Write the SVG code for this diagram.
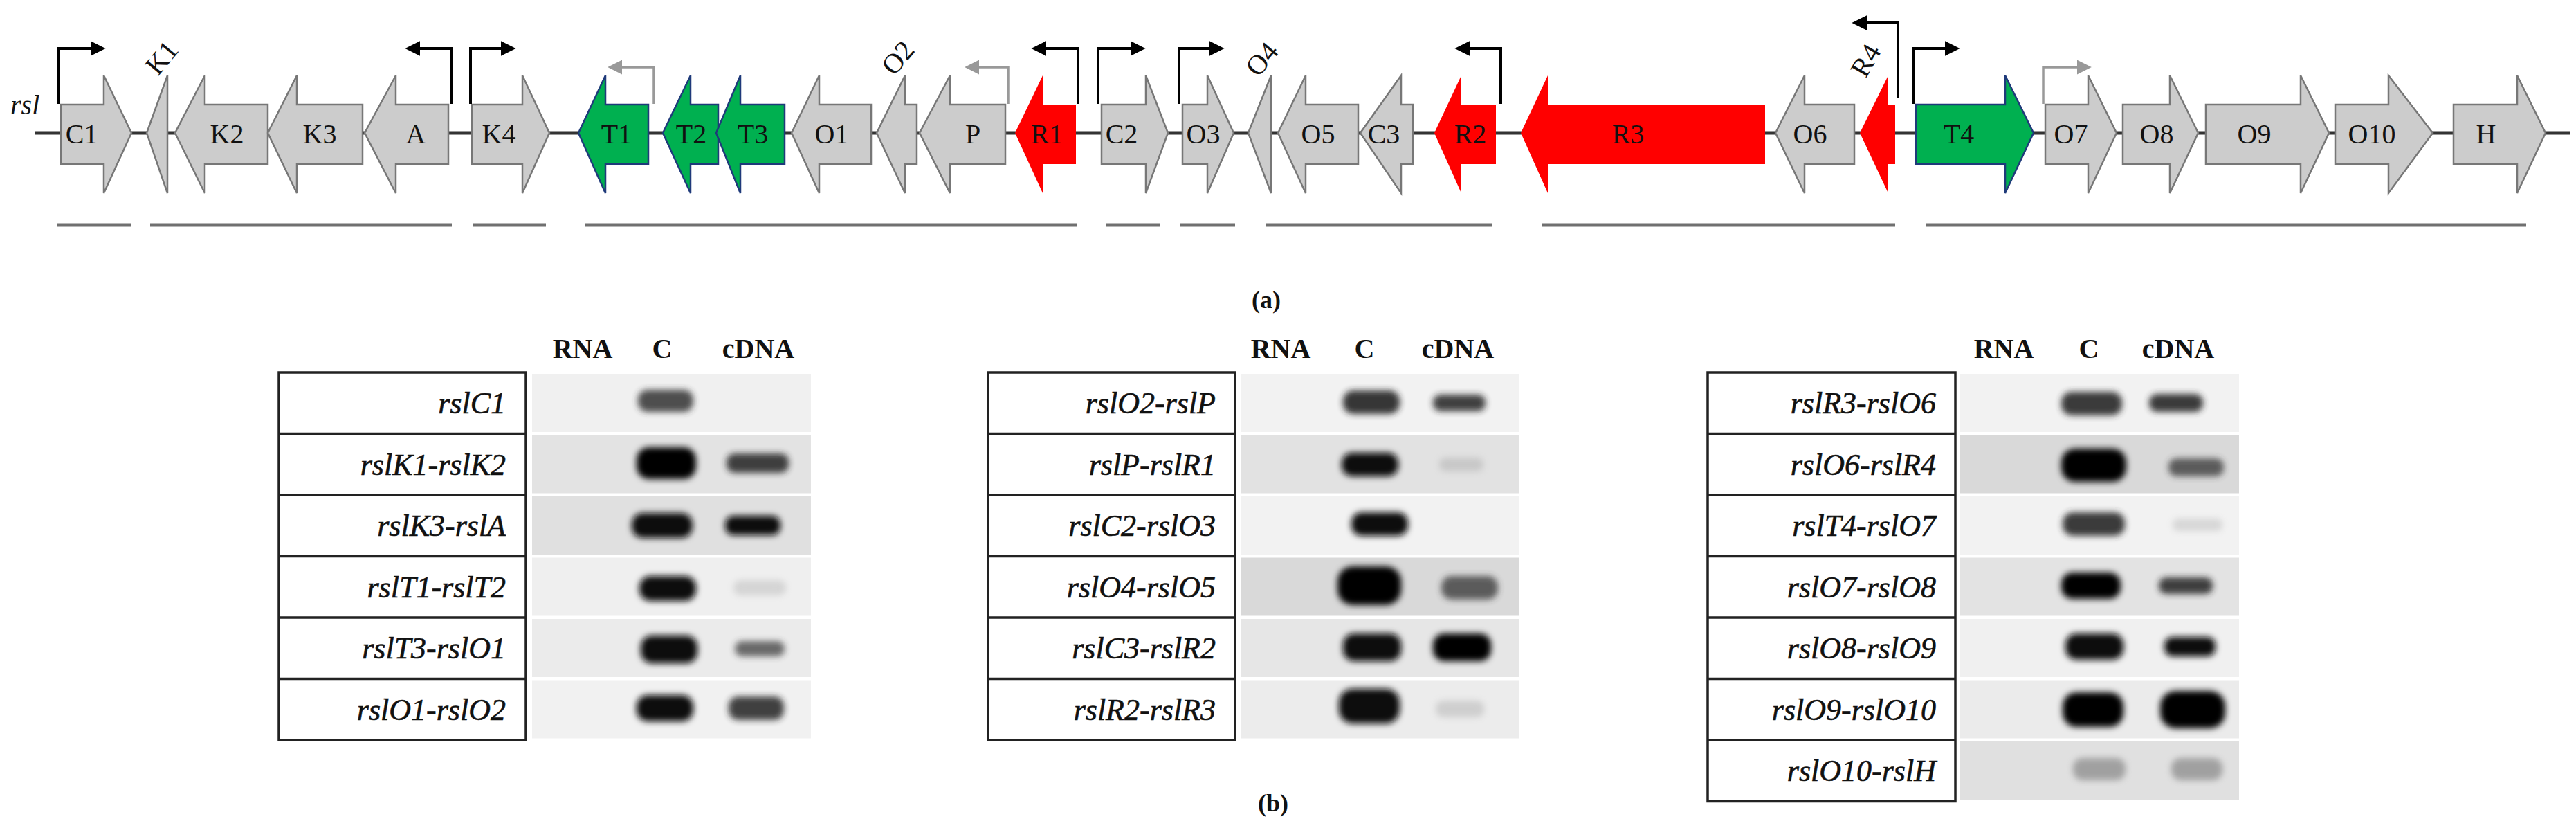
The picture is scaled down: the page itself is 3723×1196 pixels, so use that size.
<svg xmlns="http://www.w3.org/2000/svg" width="3723" height="1196" viewBox="0 0 3723 1196">
<style>
.g{fill:#cccccc;stroke:#777;stroke-width:2.5}
.t{fill:#00b050;stroke:#1f3a7a;stroke-width:2.5}
.r{fill:#ff0000;stroke:none}
.lb{font-family:"Liberation Serif",serif;font-size:40px;fill:#111;text-anchor:middle}
.pb{fill:none;stroke:#000;stroke-width:4}
.pg{fill:none;stroke:#999;stroke-width:3.5}
.seg{stroke:#707070;stroke-width:5}
.hd{font-family:"Liberation Serif",serif;font-size:40px;font-weight:bold;fill:#111;text-anchor:middle}
.rl{font-family:"Liberation Serif",serif;font-size:44px;font-style:italic;fill:#111;stroke:#111;stroke-width:0.6;text-anchor:end}
.box{fill:#fff;stroke:#222;stroke-width:3.5}
.band{filter:url(#bl)}
</style>
<defs>
<filter id="bl" x="-30%" y="-60%" width="160%" height="220%"><feGaussianBlur stdDeviation="5"/></filter>
<marker id="ab" viewBox="0 0 10 10" refX="2" refY="5" markerWidth="5.5" markerHeight="5.5" orient="auto"><path d="M0,0 L10,5 L0,10 Z" fill="#000"/></marker>
<marker id="ag" viewBox="0 0 10 10" refX="2" refY="5" markerWidth="6" markerHeight="6" orient="auto"><path d="M0,0 L10,5 L0,10 Z" fill="#999"/></marker>
</defs>
<rect width="3723" height="1196" fill="#fff"/>
<line x1="51" y1="192" x2="3715" y2="192" stroke="#333" stroke-width="5"/>
<text x="15" y="165" font-family="Liberation Serif,serif" font-size="40" font-style="italic" fill="#111">rsl</text>
<g id="genes">
<g id="C1"><path class="g" d="M88,151 L150,151 L150,109 L190,192 L150,279 L150,237 L88,237 Z"/><text class="lb" x="118" y="207">C1</text></g>
<g id="K1"><path class="g" d="M212,192 L242,109 L242,279 Z"/><text class="lb" transform="translate(244,92) rotate(-50)" x="0" y="0">K1</text></g>
<g id="K2"><path class="g" d="M253,192 L296,109 L296,151 L387,151 L387,237 L296,237 L296,279 Z"/><text class="lb" x="328" y="207">K2</text></g>
<g id="K3"><path class="g" d="M387,192 L429,109 L429,151 L524,151 L524,237 L429,237 L429,279 Z"/><text class="lb" x="462" y="207">K3</text></g>
<g id="A"><path class="g" d="M527,192 L572,109 L572,151 L648,151 L648,237 L572,237 L572,279 Z"/><text class="lb" x="601" y="207">A</text></g>
<g id="K4"><path class="g" d="M682,151 L755,151 L755,109 L794,192 L755,279 L755,237 L682,237 Z"/><text class="lb" x="721" y="207">K4</text></g>
<g id="T1"><path class="t" d="M836,192 L875,109 L875,151 L937,151 L937,237 L875,237 L875,279 Z"/><text class="lb" x="891" y="207">T1</text></g>
<g id="T2"><path class="t" d="M958,192 L998,109 L998,151 L1038,151 L1038,237 L998,237 L998,279 Z"/><text class="lb" x="999" y="207">T2</text></g>
<g id="T3"><path class="t" d="M1035,192 L1070,109 L1070,151 L1134,151 L1134,237 L1070,237 L1070,279 Z"/><text class="lb" x="1088" y="207">T3</text></g>
<g id="O1"><path class="g" d="M1144,192 L1184,109 L1184,151 L1259,151 L1259,237 L1184,237 L1184,279 Z"/><text class="lb" x="1202" y="207">O1</text></g>
<g id="O2"><path class="g" d="M1267,192 L1308,109 L1308,151 L1325,151 L1325,237 L1308,237 L1308,279 Z"/><text class="lb" transform="translate(1308,92) rotate(-50)" x="0" y="0">O2</text></g>
<g id="P"><path class="g" d="M1329,192 L1373,109 L1373,151 L1453,151 L1453,237 L1373,237 L1373,279 Z"/><text class="lb" x="1406" y="207">P</text></g>
<g id="R1"><path class="r" d="M1467,192 L1507,109 L1507,151 L1555,151 L1555,237 L1507,237 L1507,279 Z"/><text class="lb" x="1513" y="207">R1</text></g>
<g id="C2"><path class="g" d="M1592,151 L1656,151 L1656,109 L1688,192 L1656,279 L1656,237 L1592,237 Z"/><text class="lb" x="1621" y="207">C2</text></g>
<g id="O3"><path class="g" d="M1709,151 L1745,151 L1745,109 L1783,192 L1745,279 L1745,237 L1709,237 Z"/><text class="lb" x="1739" y="207">O3</text></g>
<g id="O4"><path class="g" d="M1804,192 L1837,109 L1837,279 Z"/><text class="lb" transform="translate(1834,94) rotate(-50)" x="0" y="0">O4</text></g>
<g id="O5"><path class="g" d="M1847,192 L1887,109 L1887,151 L1963,151 L1963,237 L1887,237 L1887,279 Z"/><text class="lb" x="1905" y="207">O5</text></g>
<g id="C3"><path class="g" d="M1966,192 L2025,109 L2025,151 L2042,151 L2042,237 L2025,237 L2025,279 Z"/><text class="lb" x="2000" y="207">C3</text></g>
<g id="R2"><path class="r" d="M2073,192 L2112,109 L2112,151 L2162,151 L2162,237 L2112,237 L2112,279 Z"/><text class="lb" x="2125" y="207">R2</text></g>
<g id="R3"><path class="r" d="M2198,192 L2237,109 L2237,151 L2551,151 L2551,237 L2237,237 L2237,279 Z"/><text class="lb" x="2353" y="207">R3</text></g>
<g id="O6"><path class="g" d="M2566,192 L2608,109 L2608,151 L2680,151 L2680,237 L2608,237 L2608,279 Z"/><text class="lb" x="2616" y="207">O6</text></g>
<g id="R4"><path class="r" d="M2688,192 L2729,109 L2729,151 L2739,151 L2739,237 L2729,237 L2729,279 Z"/><text class="lb" transform="translate(2708,94) rotate(-60)" x="0" y="0">R4</text></g>
<g id="T4"><path class="t" d="M2769,151 L2898,151 L2898,109 L2939,192 L2898,279 L2898,237 L2769,237 Z"/><text class="lb" x="2831" y="207">T4</text></g>
<g id="O7"><path class="g" d="M2956,151 L3018,151 L3018,109 L3059,192 L3018,279 L3018,237 L2956,237 Z"/><text class="lb" x="2993" y="207">O7</text></g>
<g id="O8"><path class="g" d="M3068,151 L3136,151 L3136,109 L3177,192 L3136,279 L3136,237 L3068,237 Z"/><text class="lb" x="3117" y="207">O8</text></g>
<g id="O9"><path class="g" d="M3188,151 L3325,151 L3325,109 L3366,192 L3325,279 L3325,237 L3188,237 Z"/><text class="lb" x="3258" y="207">O9</text></g>
<g id="O10"><path class="g" d="M3375,151 L3452,151 L3452,109 L3516,192 L3452,279 L3452,237 L3375,237 Z"/><text class="lb" x="3428" y="207">O10</text></g>
<g id="H"><path class="g" d="M3546,151 L3638,151 L3638,109 L3679,192 L3638,279 L3638,237 L3546,237 Z"/><text class="lb" x="3593" y="207">H</text></g>
</g>
<g id="connectors">
<path class="pb" d="M85,150 V70 H135" marker-end="url(#ab)"/>
<path class="pb" d="M653,150 V70 H603" marker-end="url(#ab)"/>
<path class="pb" d="M680,150 V70 H728" marker-end="url(#ab)"/>
<path class="pg" d="M945,150 V97 H895" marker-end="url(#ag)"/>
<path class="pg" d="M1457,150 V97 H1411" marker-end="url(#ag)"/>
<path class="pb" d="M1558,150 V70 H1508" marker-end="url(#ab)"/>
<path class="pb" d="M1587,150 V70 H1638" marker-end="url(#ab)"/>
<path class="pb" d="M1704,150 V70 H1752" marker-end="url(#ab)"/>
<path class="pb" d="M2169,150 V70 H2120" marker-end="url(#ab)"/>
<path class="pb" d="M2743,142 V33 H2694" marker-end="url(#ab)"/>
<path class="pb" d="M2765,150 V70 H2815" marker-end="url(#ab)"/>
<path class="pg" d="M2953,150 V97 H3006" marker-end="url(#ag)"/>
</g>
<g id="transcripts">
<line class="seg" x1="83" y1="325" x2="189" y2="325"/>
<line class="seg" x1="217" y1="325" x2="653" y2="325"/>
<line class="seg" x1="684" y1="325" x2="789" y2="325"/>
<line class="seg" x1="846" y1="325" x2="1557" y2="325"/>
<line class="seg" x1="1598" y1="325" x2="1677" y2="325"/>
<line class="seg" x1="1706" y1="325" x2="1785" y2="325"/>
<line class="seg" x1="1830" y1="325" x2="2156" y2="325"/>
<line class="seg" x1="2228" y1="325" x2="2739" y2="325"/>
<line class="seg" x1="2784" y1="325" x2="3651" y2="325"/>
</g>
<text x="1830" y="445" font-family="Liberation Serif,serif" font-size="36" font-weight="bold" text-anchor="middle" fill="#111">(a)</text>

<g id="table1">
<text class="hd" x="842" y="517">RNA</text><text class="hd" x="957" y="517">C</text><text class="hd" x="1096" y="517">cDNA</text>
<rect class="box" x="403" y="538" width="357" height="531"/>
<path d="M403,626.5 H760 M403,715 H760 M403,803.5 H760 M403,892 H760 M403,980.5 H760" stroke="#222" stroke-width="3.5"/>
<text class="rl" x="731" y="597">rslC1</text>
<text class="rl" x="731" y="686">rslK1-rslK2</text>
<text class="rl" x="731" y="774">rslK3-rslA</text>
<text class="rl" x="731" y="863">rslT1-rslT2</text>
<text class="rl" x="731" y="951">rslT3-rslO1</text>
<text class="rl" x="731" y="1040">rslO1-rslO2</text>
<rect x="769" y="540" width="403" height="84" fill="#f0f0f0"/>
<rect x="769" y="628.5" width="403" height="84" fill="#e3e3e3"/>
<rect x="769" y="717" width="403" height="84" fill="#e0e0e0"/>
<rect x="769" y="805.5" width="403" height="84" fill="#efefef"/>
<rect x="769" y="894" width="403" height="84" fill="#ebebeb"/>
<rect x="769" y="982.5" width="403" height="84" fill="#f1f1f1"/>
<rect class="band" x="922" y="563" width="80" height="32" rx="14" fill="#333" opacity="0.85"/>
<rect class="band" x="920" y="646" width="86" height="46" rx="18" fill="#000"/>
<rect class="band" x="1050" y="655" width="90" height="28" rx="12" fill="#222" opacity="0.85"/>
<rect class="band" x="913" y="741" width="88" height="36" rx="16" fill="#111"/>
<rect class="band" x="1048" y="745" width="80" height="28" rx="12" fill="#111"/>
<rect class="band" x="924" y="832" width="82" height="36" rx="16" fill="#0a0a0a"/>
<rect class="band" x="1060" y="838" width="76" height="22" rx="10" fill="#999" opacity="0.3"/>
<rect class="band" x="926" y="918" width="82" height="40" rx="16" fill="#0a0a0a"/>
<rect class="band" x="1062" y="926" width="72" height="22" rx="10" fill="#333" opacity="0.7"/>
<rect class="band" x="920" y="1004" width="82" height="38" rx="16" fill="#111"/>
<rect class="band" x="1053" y="1006" width="80" height="34" rx="14" fill="#222" opacity="0.85"/>
</g>

<g id="table2">
<text class="hd" x="1851" y="517">RNA</text><text class="hd" x="1972" y="517">C</text><text class="hd" x="2107" y="517">cDNA</text>
<rect class="box" x="1428" y="538" width="357" height="531"/>
<path d="M1428,626.5 H1785 M1428,715 H1785 M1428,803.5 H1785 M1428,892 H1785 M1428,980.5 H1785" stroke="#222" stroke-width="3.5"/>
<text class="rl" x="1757" y="597">rslO2-rslP</text>
<text class="rl" x="1757" y="686">rslP-rslR1</text>
<text class="rl" x="1757" y="774">rslC2-rslO3</text>
<text class="rl" x="1757" y="863">rslO4-rslO5</text>
<text class="rl" x="1757" y="951">rslC3-rslR2</text>
<text class="rl" x="1757" y="1040">rslR2-rslR3</text>
<rect x="1793" y="540" width="403" height="84" fill="#f2f2f2"/>
<rect x="1793" y="628.5" width="403" height="84" fill="#e2e2e2"/>
<rect x="1793" y="717" width="403" height="84" fill="#f2f2f2"/>
<rect x="1793" y="805.5" width="403" height="84" fill="#d9d9d9"/>
<rect x="1793" y="894" width="403" height="84" fill="#e6e6e6"/>
<rect x="1793" y="982.5" width="403" height="84" fill="#ececec"/>
<rect class="band" x="1941" y="564" width="82" height="34" rx="15" fill="#222" opacity="0.9"/>
<rect class="band" x="2071" y="570" width="76" height="24" rx="11" fill="#222" opacity="0.85"/>
<rect class="band" x="1939" y="654" width="82" height="34" rx="15" fill="#111"/>
<rect class="band" x="2080" y="661" width="64" height="20" rx="9" fill="#999" opacity="0.35"/>
<rect class="band" x="1953" y="740" width="82" height="34" rx="15" fill="#0a0a0a"/>
<rect class="band" x="1933" y="818" width="92" height="56" rx="22" fill="#000"/>
<rect class="band" x="2083" y="832" width="82" height="34" rx="15" fill="#333" opacity="0.75"/>
<rect class="band" x="1941" y="915" width="84" height="40" rx="16" fill="#0a0a0a"/>
<rect class="band" x="2071" y="915" width="84" height="40" rx="16" fill="#000"/>
<rect class="band" x="1935" y="995" width="88" height="50" rx="20" fill="#111"/>
<rect class="band" x="2075" y="1012" width="70" height="24" rx="10" fill="#999" opacity="0.35"/>
</g>

<g id="table3">
<text class="hd" x="2896" y="517">RNA</text><text class="hd" x="3019" y="517">C</text><text class="hd" x="3148" y="517">cDNA</text>
<rect class="box" x="2468" y="538" width="358" height="619.5"/>
<path d="M2468,626.5 H2826 M2468,715 H2826 M2468,803.5 H2826 M2468,892 H2826 M2468,980.5 H2826 M2468,1069 H2826" stroke="#222" stroke-width="3.5"/>
<text class="rl" x="2798" y="597">rslR3-rslO6</text>
<text class="rl" x="2798" y="686">rslO6-rslR4</text>
<text class="rl" x="2798" y="774">rslT4-rslO7</text>
<text class="rl" x="2798" y="863">rslO7-rslO8</text>
<text class="rl" x="2798" y="951">rslO8-rslO9</text>
<text class="rl" x="2798" y="1040">rslO9-rslO10</text>
<text class="rl" x="2798" y="1128">rslO10-rslH</text>
<rect x="2833" y="540" width="403" height="84" fill="#f2f2f2"/>
<rect x="2833" y="628.5" width="403" height="84" fill="#d9d9d9"/>
<rect x="2833" y="717" width="403" height="84" fill="#f2f2f2"/>
<rect x="2833" y="805.5" width="403" height="84" fill="#e3e3e3"/>
<rect x="2833" y="894" width="403" height="84" fill="#f0f0f0"/>
<rect x="2833" y="982.5" width="403" height="84" fill="#ebebeb"/>
<rect x="2833" y="1071" width="403" height="84" fill="#e0e0e0"/>
<rect class="band" x="2979" y="566" width="88" height="34" rx="15" fill="#333" opacity="0.95"/>
<rect class="band" x="3106" y="569" width="78" height="26" rx="12" fill="#333" opacity="0.95"/>
<rect class="band" x="2979" y="648" width="94" height="48" rx="20" fill="#000"/>
<rect class="band" x="3134" y="662" width="80" height="26" rx="12" fill="#333" opacity="0.75"/>
<rect class="band" x="2981" y="740" width="90" height="34" rx="15" fill="#333" opacity="0.95"/>
<rect class="band" x="3140" y="749" width="72" height="18" rx="8" fill="#999" opacity="0.3"/>
<rect class="band" x="2979" y="827" width="86" height="38" rx="16" fill="#000"/>
<rect class="band" x="3120" y="834" width="78" height="24" rx="11" fill="#222" opacity="0.85"/>
<rect class="band" x="2985" y="915" width="84" height="38" rx="16" fill="#0a0a0a"/>
<rect class="band" x="3128" y="920" width="74" height="28" rx="12" fill="#111"/>
<rect class="band" x="2981" y="1000" width="88" height="50" rx="20" fill="#000"/>
<rect class="band" x="3122" y="998" width="94" height="54" rx="22" fill="#000"/>
<rect class="band" x="2996" y="1095" width="76" height="32" rx="14" fill="#777" opacity="0.6"/>
<rect class="band" x="3138" y="1095" width="74" height="32" rx="14" fill="#777" opacity="0.6"/>
</g>
<text x="1840" y="1172" font-family="Liberation Serif,serif" font-size="36" font-weight="bold" text-anchor="middle" fill="#111">(b)</text>
</svg>
